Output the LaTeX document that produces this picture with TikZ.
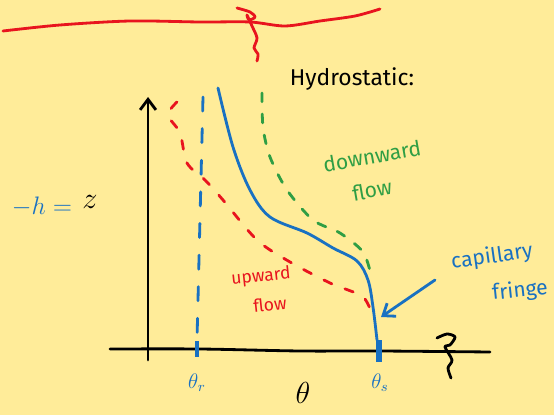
\documentclass[tikz,border=0pt]{standalone}
\usepackage{fontspec}
\setmainfont{Fira Sans}
\usetikzlibrary{arrows.meta}
\definecolor{paper}{HTML}{FFEC99}
\definecolor{penred}{HTML}{E8141E}
\definecolor{penblue}{HTML}{1971C2}
\definecolor{pengreen}{HTML}{2F9E44}
\begin{document}
\begin{tikzpicture}[x=0.02cm, y=-0.02cm,
    pen/.style={line width=1.6pt, line cap=round, line join=round},
    hand/.style={inner sep=0pt, font=\fontsize{12}{14}\selectfont}]
        \fill[paper] (0,0) rectangle (554,415);
        \useasboundingbox (0,0) rectangle (554,415);

        % water table with break mark
        \draw[pen, penred] plot[smooth] coordinates {(3,31) (60,25) (130,21) (200,22) (250,22) (285,26) (320,21) (355,16) (380,9)};
        \draw[pen, penred] plot[smooth] coordinates {(237,8) (250,12) (255,17) (249,20) (247,15) (252,26) (257,38) (254,48) (258,54) (257,61)};

        \node[hand, font=\fontsize{13}{15}\selectfont] (hydro) at (352,79) {Hydrostatic:};

        % axes
        \coordinate (ybot) at (148,360);
        \coordinate (ytop) at (148,97);
        \draw[pen, -{Straight Barb[length=6pt, width=9pt]}] (ybot) -- (ytop);
        \draw[pen] plot[smooth] coordinates {(110,349) (200,349) (300,351) (380,351) (490,352)};
        \draw[pen] plot[smooth] coordinates {(437,338) (447,334) (455,337) (450,345) (445,347) (452,360) (448,368) (451,378)};

        % ticks on theta axis
        \coordinate (rtop) at (197,341);
        \coordinate (rbot) at (197,357);
        \coordinate (stop) at (379,340);
        \coordinate (sbot) at (379,362);
        \draw[penblue, line width=2.6pt] (rtop) -- (rbot);
        \draw[penblue, line width=3pt] (stop) -- (sbot);
        \node[hand, penblue] (thr) at (197,383) {$\theta_r$};
        \node[hand, penblue] (ths) at (380,383) {$\theta_s$};
        \node[hand, font=\fontsize{17}{19}\selectfont] (th) at (303,393) {$\theta$};

        \node[hand, penblue, font=\fontsize{14}{16}\selectfont] (hlab) at (42,207) {$-h=$};
        \node[hand, font=\fontsize{17}{19}\selectfont] (zlab) at (90,202) {$z$};

        % residual water content
        \draw[pen, penblue, dash pattern=on 8pt off 10pt] (203,97) -- (197,340);

        % Hydrostatic profile
        \draw[pen, penblue] plot[smooth, tension=0.55] coordinates {(218,88) (233,147) (250,190) (270,217) (307,233) (333,248) (357,261) (368,280) (373,307) (377,340)};

        % Caso downward flow
        \draw[pen, pengreen, dash pattern=on 5pt off 7pt] plot[smooth] coordinates {(262,93) (263,127) (270,157) (287,190) (313,220) (340,233) (363,252) (371,275)};
        \node[hand, pengreen, rotate=10] (down) at (372,156) {downward};
        \node[hand, pengreen, rotate=10] (downf) at (372,190) {flow};

        % Caso upward flow
        \draw[pen, penred, dash pattern=on 5pt off 8pt] plot[smooth] coordinates {(177,102) (168,115) (180,133) (187,163) (205,180) (223,200) (257,240) (290,262) (330,283) (363,297) (373,318)};
        \node[hand, penred, rotate=6, font=\fontsize{10}{12}\selectfont] (up) at (261,277) {upward};
        \node[hand, penred, rotate=6, font=\fontsize{10}{12}\selectfont] (upf) at (270,304) {flow};

        % capillary fringe
        \node[hand, penblue, rotate=8] (cap) at (492,257) {capillary};
        \node[hand, penblue, rotate=6] (fringe) at (520,291) {fringe};
        \coordinate (captail) at (435,280);
        \coordinate (caphead) at (381,317);
        \draw[pen, penblue, -{Straight Barb[length=6pt, width=9pt]}] (captail) -- (caphead);
    \end{tikzpicture}
\end{document}
